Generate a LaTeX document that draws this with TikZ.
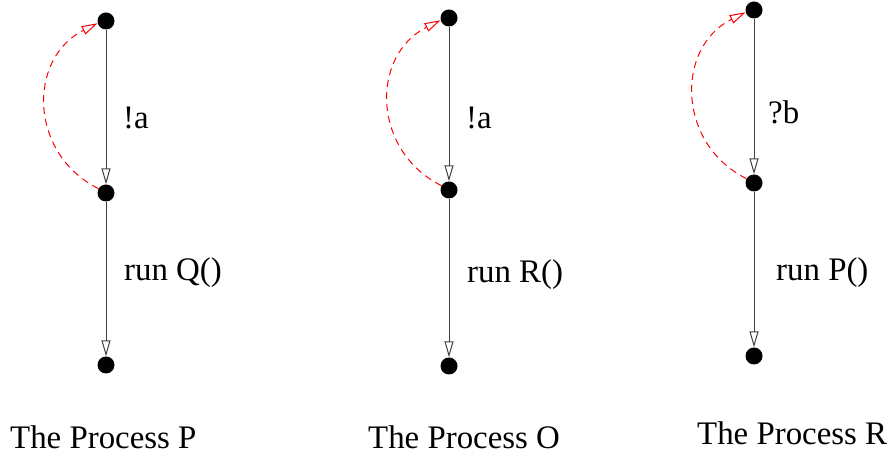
\documentclass[tikz,border=0pt]{standalone}
\usepackage{fontspec}
\setmainfont{Liberation Serif}
\usetikzlibrary{arrows.meta}
\begin{document}
\begin{tikzpicture}[x=1bp,y=-1bp,
  dot/.style={circle,fill=black,inner sep=0pt,minimum size=17bp},
  trans/.style={draw=black!75,line width=1bp,-{Triangle[open,length=16bp,width=9bp]}},
  back/.style={draw=red,dashed,dash pattern=on 7bp off 5bp,line width=1bp,-{Triangle[open,length=16bp,width=9bp]}},
  lbl/.style={anchor=west,inner sep=0pt,font=\fontsize{33}{40}\selectfont},
  title/.style={anchor=base west,inner sep=0pt,font=\fontsize{33}{40}\selectfont}]
\useasboundingbox (0,0) rectangle (894,456);
% Process P
\node[dot] (p1) at (106,21) {};
\node[dot] (p2) at (106,193) {};
\node[dot] (p3) at (106,365) {};
\draw[trans] (p1) -- (p2);
\draw[trans] (p2) -- (p3);
\draw[back] (p2.150) .. controls +(-70,-35) and +(-70,35) .. (p1.195);
\node[lbl] (pl1) at (123,118) {!a};
\node[lbl] (pl2) at (124,273) {run Q()};
\node[title] (pt) at (10,448) {The Process P};
% Process O
\node[dot] (o1) at (449,18) {};
\node[dot] (o2) at (449,190) {};
\node[dot] (o3) at (449,366) {};
\draw[trans] (o1) -- (o2);
\draw[trans] (o2) -- (o3);
\draw[back] (o2.150) .. controls +(-70,-35) and +(-70,35) .. (o1.195);
\node[lbl] (ol1) at (466,118) {!a};
\node[lbl] (ol2) at (467,275) {run R()};
\node[title] (ot) at (368,448) {The Process O};
% Process R
\node[dot] (r1) at (754,10) {};
\node[dot] (r2) at (754,183) {};
\node[dot] (r3) at (754,356) {};
\draw[trans] (r1) -- (r2);
\draw[trans] (r2) -- (r3);
\draw[back] (r2.150) .. controls +(-70,-35) and +(-70,35) .. (r1.195);
\node[lbl] (rl1) at (768,112) {?b};
\node[lbl] (rl2) at (776,273) {run P()};
\node[title] (rt) at (697,444) {The Process R};
\end{tikzpicture}
\end{document}
